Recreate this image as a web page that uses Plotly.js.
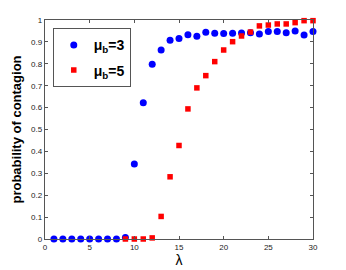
<!DOCTYPE html>
<html><head><meta charset="utf-8">
<script src="https://cdn.plot.ly/plotly-3.0.1.min.js"></script>
<style>html,body{margin:0;padding:0;background:#fff}#chart{width:346px;height:270px}</style>
</head><body><div id="chart"></div>
<script>
const lambda = [1,2,3,4,5,6,7,8,9,10,11,12,13,14,15,16,17,18,19,20,21,22,23,24,25,26,27,28,29,30];
const mu3 = [0,0,0,0,0,0,0,0,0.007,0.343,0.622,0.798,0.863,0.907,0.915,0.933,0.926,0.944,0.939,0.938,0.939,0.941,0.942,0.936,0.947,0.947,0.942,0.95,0.932,0.948];
const lambda5 = [9,10,11,12,13,14,15,16,17,18,19,20,21,22,23,24,25,26,27,28,29,30];
const mu5 = [0,0,0,0.005,0.103,0.284,0.427,0.594,0.69,0.746,0.81,0.863,0.901,0.927,0.945,0.973,0.977,0.982,0.982,0.988,0.997,0.997];
const xTicks = [0,5,10,15,20,25,30];
const yTicks = [0,0.1,0.2,0.3,0.4,0.5,0.6,0.7,0.8,0.9,1];

const traces = [
  {x: lambda, y: mu3, mode:'markers', name:'<b>μ<sub>b</sub>=3</b>', type:'scatter', cliponaxis:false, legendgroup:'a',
   marker:{symbol:'circle', size:7, color:'#0000ff'}},
  {x: lambda5, y: mu5, mode:'markers', name:'<b>μ<sub>b</sub>=5</b>', type:'scatter', cliponaxis:false, legendgroup:'b',
   marker:{symbol:'square', size:5.5, color:'#ff0000'}}
];
const axisCommon = {showgrid:false, zeroline:false, showline:true, mirror:'ticks', linecolor:'#555', linewidth:1.2,
  ticks:'inside', ticklen:3, tickcolor:'#555', tickfont:{family:'Liberation Sans, Arial', size:8, color:'#222'}};
const layout = {
  width:346, height:270, margin:{l:45, r:33, t:20, b:31},
  paper_bgcolor:'#fff', plot_bgcolor:'#fff', showlegend:true,
  xaxis: Object.assign({}, axisCommon, {range:[0,30], tickvals:xTicks, ticktext:xTicks.map(String),
    title:{text:'λ', font:{family:'Liberation Sans, Arial', size:14, color:'#000'}, standoff:2}}),
  yaxis: Object.assign({}, axisCommon, {range:[0,1], tickvals:yTicks, ticktext:yTicks.map(String),
    title:{text:'<b>probability of contagion</b>', font:{family:'Liberation Sans, Arial', size:13, color:'#000'}, standoff:6}}),
  legend:{x:0.029, y:0.962, xanchor:'left', yanchor:'top', bgcolor:'#fff', bordercolor:'#555', borderwidth:1,
    font:{family:'Liberation Sans, Arial', size:14, color:'#000'}, itemwidth:30, traceorder:'grouped', tracegroupgap:4}
};
Plotly.newPlot('chart', traces, layout, {displayModeBar:false, staticPlot:true});
</script></body></html>
